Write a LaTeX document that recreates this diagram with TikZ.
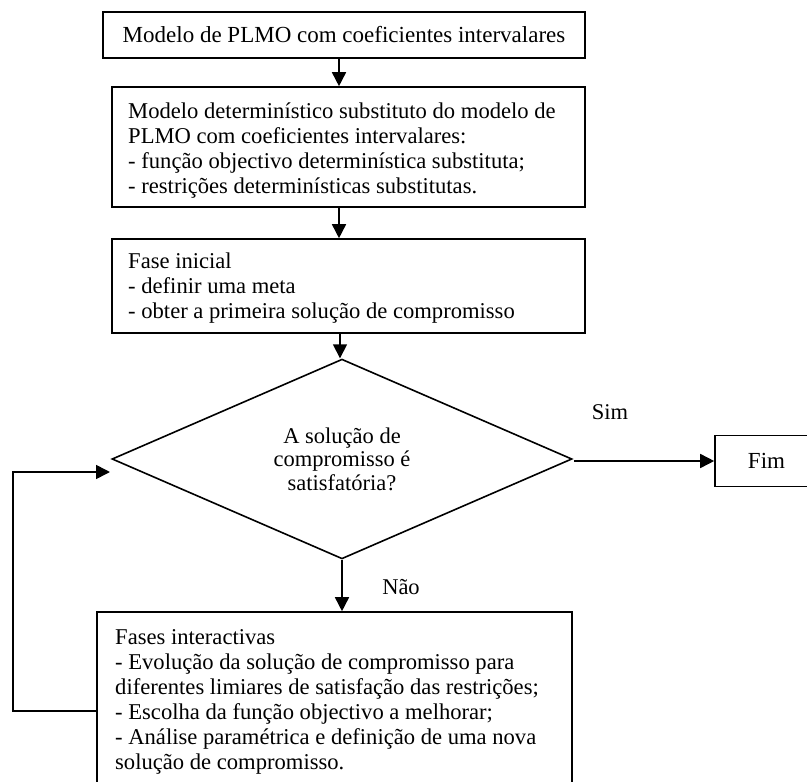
\documentclass[tikz,border=0pt]{standalone}
\usepackage{fontspec}
\setmainfont{Liberation Serif}
\usetikzlibrary{arrows.meta,shapes.geometric}
\begin{document}
\begin{tikzpicture}[x=1pt,y=-1pt,
  box/.style={draw,line width=1.6pt,rectangle,inner sep=0pt,font=\fontsize{23}{25}\selectfont},
  btxt/.style={anchor=west,align=left,inner sep=0pt,font=\fontsize{22.6}{25}\selectfont},
  dia/.style={draw,line width=1.6pt,diamond,inner sep=0pt,align=center,font=\fontsize{22.5}{23.5}\selectfont},
  arr/.style={line width=1.6pt,-{Triangle[length=14pt,width=14pt]}},
  lbl/.style={font=\fontsize{22.5}{25}\selectfont,inner sep=0pt}]
\useasboundingbox (0,0) rectangle (807,782);
\clip (0,0) rectangle (807,782);
\node[box,minimum width=482pt,minimum height=46pt] (b1) at (344,35) {Modelo de PLMO com coeficientes intervalares};
\node[box,minimum width=473pt,minimum height=120pt] (b2) at (348.5,147) {};
\node[btxt] (t2) at (128,151)
  {Modelo determinístico substituto do modelo de\\PLMO com coeficientes intervalares:\\- função objectivo determinística substituta;\\- restrições determinísticas substitutas.};
\node[box,minimum width=473pt,minimum height=94pt] (b3) at (348.5,286) {};
\node[btxt] (t3) at (128,288)
  {Fase inicial\\- definir uma meta\\- obter a primeira solução de compromisso};
\node[dia,minimum width=460pt,minimum height=179pt] (dec) at (342,459)
  {A solução de\\compromisso é\\satisfatória?};
\node[box,minimum width=103pt,minimum height=51pt] (fim) at (766.5,461) {Fim};
\node[box,minimum width=475pt,minimum height=178pt] (b4) at (334.5,701) {};
\node[btxt] (t4) at (115,702)
  {Fases interactivas\\- Evolução da solução de compromisso para\\diferentes limiares de satisfação das restrições;\\- Escolha da função objectivo a melhorar;\\- Análise paramétrica e definição de uma nova\\solução de compromisso.};
\node[lbl] (sim) at (610,412) {Sim};
\node[lbl] (nao) at (401,587) {Não};
\coordinate (lp) at (110,472);
\draw[arr] ([xshift=-3pt]b1.south -| dec.north) -- ([xshift=-3pt]b2.north -| dec.north);
\draw[arr] ([xshift=-3pt]b2.south -| dec.north) -- ([xshift=-3pt]b3.north -| dec.north);
\draw[arr] ([xshift=-2pt]b3.south -| dec.north) -- ([xshift=-2pt]dec.north);
\draw[arr] ([xshift=1pt]dec.east |- fim.west) -- (fim.west);
\draw[arr] (dec.south) -- (dec.south |- b4.north);
\draw[arr] ([yshift=-10pt]b4.west) -- ++(-83,0) |- (lp);
\end{tikzpicture}
\end{document}
